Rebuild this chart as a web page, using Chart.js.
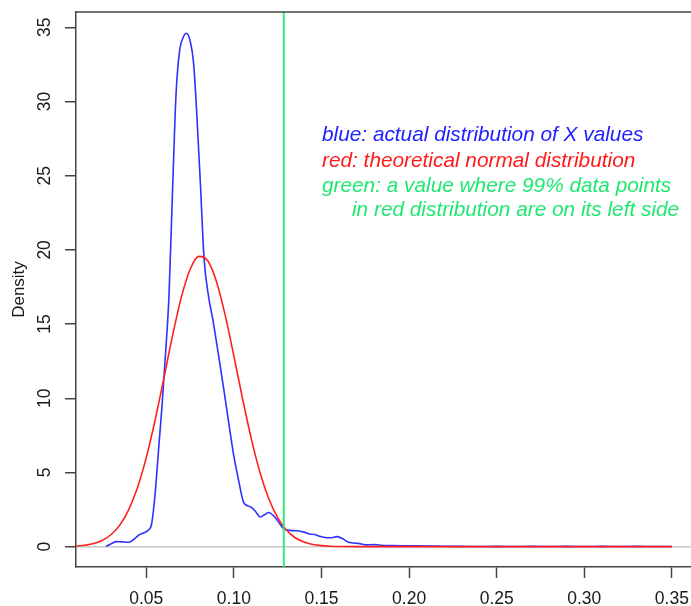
<!DOCTYPE html>
<html>
<head>
<meta charset="utf-8">
<script src="https://cdn.jsdelivr.net/npm/chart.js@4.4.1/dist/chart.umd.min.js"></script>
<style>
  html, body { margin: 0; padding: 0; background: #fff; }
  canvas { display: block; }
</style>
</head>
<body>
<canvas id="densityCanvas" width="691" height="606"></canvas>
<script>
const blueX = [0.027, 0.030, 0.033, 0.036, 0.040, 0.043, 0.046, 0.049, 0.051, 0.053,
  0.055, 0.057, 0.059, 0.061, 0.063, 0.065, 0.067, 0.069, 0.071, 0.073,
  0.075, 0.077, 0.079, 0.081, 0.083, 0.0855, 0.088, 0.091, 0.094, 0.097,
  0.100, 0.103, 0.1055, 0.108, 0.110, 0.1125, 0.115, 0.1175, 0.120, 0.1225,
  0.125, 0.1285, 0.132, 0.136, 0.140, 0.143, 0.146, 0.149, 0.152, 0.155,
  0.159, 0.162, 0.165, 0.168, 0.171, 0.175, 0.180, 0.185, 0.190, 0.200,
  0.210, 0.220, 0.230, 0.240, 0.250, 0.260, 0.270, 0.280, 0.290, 0.300,
  0.310, 0.320, 0.330, 0.340, 0.350];
const blueY = [0.02, 0.2, 0.34, 0.32, 0.3, 0.5, 0.8, 0.95, 1.1, 1.5,
  3.5, 6.5, 9.5, 13.0, 17.0, 24.0, 30.5, 33.4, 34.3, 34.6,
  34.1, 32.6, 28.8, 24.2, 19.4, 16.9, 15.3, 13.1, 10.8, 8.4,
  6.1, 4.3, 3.0, 2.75, 2.65, 2.35, 2.0, 2.15, 2.3, 2.1,
  1.75, 1.2, 1.1, 1.07, 0.98, 0.86, 0.82, 0.7, 0.62, 0.6,
  0.68, 0.55, 0.32, 0.25, 0.22, 0.12, 0.14, 0.08, 0.07, 0.06,
  0.05, 0.03, 0.02, 0.01, 0.02, 0.01, 0.02, 0.01, 0.02, 0.01,
  0.02, 0.01, 0.02, 0.01, 0.01];

// Red: theoretical normal density
const redX = [0.010, 0.015, 0.020, 0.025, 0.030, 0.035, 0.040, 0.045, 0.050, 0.055,
  0.060, 0.065, 0.070, 0.075, 0.080, 0.085, 0.090, 0.095, 0.100, 0.105,
  0.110, 0.115, 0.120, 0.125, 0.130, 0.135, 0.140, 0.145, 0.150, 0.155,
  0.160, 0.170, 0.180, 0.200, 0.250, 0.300, 0.350];
const redY = [0.04, 0.10, 0.21, 0.43, 0.82, 1.47, 2.50, 3.99, 6.00, 8.50,
  11.33, 14.22, 16.80, 18.68, 19.56, 19.28, 17.89, 15.62, 12.85, 9.95,
  7.25, 4.97, 3.21, 1.96, 1.12, 0.60, 0.31, 0.15, 0.07, 0.03,
  0.01, 0, 0, 0, 0, 0, 0];

// Green: 99% quantile of the red distribution
const greenX = 0.1285;

const xTicks = [0.05, 0.10, 0.15, 0.20, 0.25, 0.30, 0.35];
const yTicks = [0, 5, 10, 15, 20, 25, 30, 35];
const xRange = [0.0099, 0.3609];
const yRange = [-1.37, 36.03];

const noteTexts = [
  'blue: actual distribution of X values',
  'red: theoretical normal distribution',
  'green: a value where 99% data points',
  'in red distribution are on its left side'
];
const noteColors = ['#2020ff', '#ff1a1a', '#1ee870', '#1ee870'];

const FONT = '"Liberation Sans", Arial, Helvetica, sans-serif';

function toPoints(xs, ys) {
  return xs.map((x, i) => ({ x: x, y: ys[i] }));
}

// Top edge of the R-style box
const boxPlugin = {
  id: 'boxTop',
  afterDraw(chart) {
    const { ctx, chartArea } = chart;
    ctx.save();
    ctx.strokeStyle = '#444';
    ctx.lineWidth = 1.5;
    ctx.beginPath();
    ctx.moveTo(chartArea.left, chartArea.top);
    ctx.lineTo(chartArea.right, chartArea.top);
    ctx.stroke();
    ctx.restore();
  }
};

// Coloured notes in the upper right
const notesPlugin = {
  id: 'notes',
  afterDatasetsDraw(chart) {
    const ctx = chart.ctx;
    const rows = [135, 161, 186, 210];
    const lefts = [322, 322, 322, 352];
    ctx.save();
    ctx.font = 'italic 20.8px ' + FONT;
    ctx.textBaseline = 'middle';
    ctx.textAlign = 'left';
    noteTexts.forEach((t, i) => {
      ctx.fillStyle = noteColors[i];
      ctx.fillText(t, lefts[i], rows[i]);
    });
    ctx.restore();
  }
};

new Chart(document.getElementById('densityCanvas'), {
  type: 'scatter',
  data: {
    datasets: [
      {
        label: 'green',
        data: [{ x: greenX, y: yRange[0] }, { x: greenX, y: yRange[1] }],
        showLine: true,
        borderColor: '#33ec77',
        borderWidth: 2,
        pointRadius: 0,
        order: 1
      },
      {
        label: 'red',
        data: toPoints(redX, redY),
        showLine: true,
        borderColor: '#ff2020',
        borderWidth: 1.6,
        pointRadius: 0,
        cubicInterpolationMode: 'monotone',
        order: 2
      },
      {
        label: 'blue',
        data: toPoints(blueX, blueY),
        showLine: true,
        borderColor: '#3030ff',
        borderWidth: 1.6,
        pointRadius: 0,
        cubicInterpolationMode: 'monotone',
        order: 3
      }
    ]
  },
  options: {
    responsive: false,
    animation: false,
    layout: { padding: { top: 12, right: 0, bottom: 0, left: 0 } },
    plugins: {
      legend: { display: false },
      tooltip: { enabled: false }
    },
    scales: {
      x: {
        type: 'linear',
        min: xRange[0],
        max: xRange[1],
        afterBuildTicks: (scale) => { scale.ticks = xTicks.map(v => ({ value: v })); },
        afterFit: (scale) => {
          scale.height = 39;
          scale.paddingLeft = 0;
          scale.paddingRight = 0;
        },
        border: { color: '#444', width: 1.5 },
        grid: {
          drawOnChartArea: false,
          tickLength: 11,
          tickColor: '#444',
          tickWidth: 1.5
        },
        ticks: {
          padding: 11,
          color: '#1a1a1a',
          font: { family: FONT, size: 17.5 },
          maxRotation: 0,
          callback: (v) => Number(v).toFixed(2)
        }
      },
      y: {
        type: 'linear',
        min: yRange[0],
        max: yRange[1],
        afterBuildTicks: (scale) => { scale.ticks = yTicks.map(v => ({ value: v })); },
        afterFit: (scale) => {
          scale.width = 76;
          scale.paddingTop = 0;
          scale.paddingBottom = 0;
        },
        border: { color: '#444', width: 1.5 },
        grid: {
          color: (c) => (c.tick && c.tick.value === 0 ? '#c8c8c8' : 'rgba(0,0,0,0)'),
          lineWidth: 1.5,
          tickLength: 11,
          tickColor: '#444',
          tickWidth: 1.5
        },
        ticks: {
          padding: 10,
          minRotation: 90,
          maxRotation: 90,
          crossAlign: 'center',
          color: '#1a1a1a',
          font: { family: FONT, size: 17.5 },
          callback: (v) => String(v)
        },
        title: {
          display: true,
          text: 'Density',
          color: '#1a1a1a',
          font: { family: FONT, size: 17 },
          padding: { top: 9.5, bottom: 0 }
        }
      }
    }
  },
  plugins: [boxPlugin, notesPlugin]
});
</script>
</body>
</html>
